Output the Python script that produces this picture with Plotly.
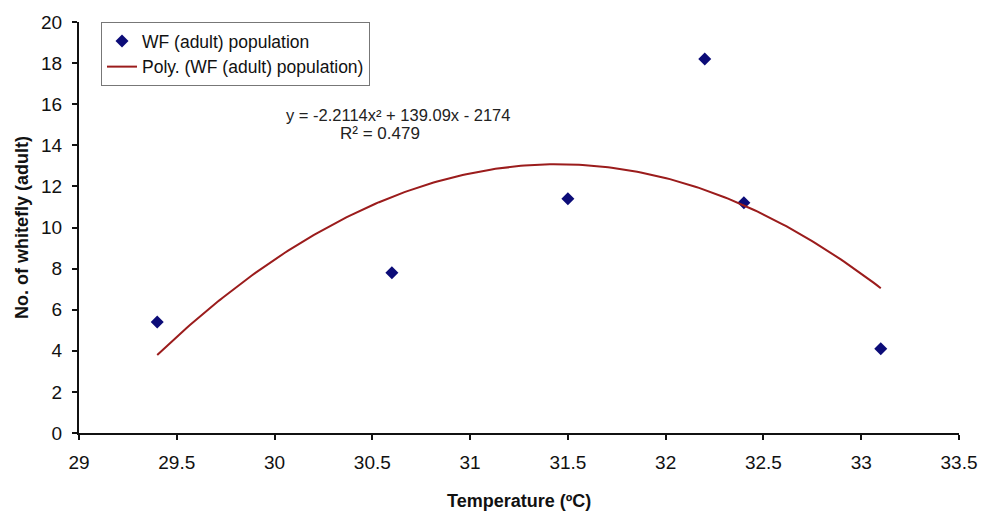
import numpy as np
import plotly.graph_objects as go

# Data
temperature = [29.4, 30.6, 31.5, 32.2, 32.4, 33.1]
whitefly = [5.4, 7.8, 11.4, 18.2, 11.2, 4.1]
# Polynomial trendline coefficients (as printed on the chart)
poly_coef = [-2.2114, 139.09, -2174]
r_squared = 0.479
x_ticks = [29, 29.5, 30, 30.5, 31, 31.5, 32, 32.5, 33, 33.5]
y_ticks = [0, 2, 4, 6, 8, 10, 12, 14, 16, 18, 20]

xs = np.linspace(min(temperature), max(temperature), 200)
ys = np.polyval(poly_coef, xs)

fig = go.Figure()
fig.add_trace(go.Scatter(
    x=temperature, y=whitefly, mode="markers",
    name="WF (adult) population",
    marker=dict(symbol="diamond", size=10, color="#0c0c78"),
))
fig.add_trace(go.Scatter(
    x=xs, y=ys, mode="lines",
    name="Poly. (WF (adult) population)",
    line=dict(color="#9b1c1c", width=2),
))

eq_text = "y = -2.2114x² + 139.09x - 2174"
fig.add_annotation(x=30.63, y=15.48, xref="x", yref="y", text=eq_text,
                   showarrow=False, font=dict(family="Arial", size=16.5, color="#222"))
fig.add_annotation(x=30.54, y=14.57, xref="x", yref="y", text=f"R² = {r_squared}",
                   showarrow=False, font=dict(family="Arial", size=17, color="#222"))
fig.add_annotation(x=0.5, y=0, xref="paper", yref="paper", xanchor="center",
                   yanchor="top", yshift=-56, showarrow=False,
                   text="<b>Temperature (ºC)</b>",
                   font=dict(family="Arial", size=18, color="#111"))

fig.update_layout(
    width=990, height=514,
    margin=dict(l=79, r=31, t=18, b=81),
    paper_bgcolor="white", plot_bgcolor="white",
    font=dict(family="Arial", color="#111"),
    showlegend=True,
    legend=dict(x=0.025, y=1.0, xanchor="left", yanchor="top",
                bordercolor="#777", borderwidth=1, bgcolor="white",
                font=dict(family="Arial", size=17.5, color="#111")),
    xaxis=dict(range=[29, 33.5], tickvals=x_ticks,
               ticktext=[str(t) for t in x_ticks],
               showgrid=False, zeroline=False, showline=True,
               linecolor="#111", linewidth=2, ticks="outside", ticklen=5,
               tickwidth=2, tickcolor="#111", ticklabelstandoff=6,
               tickfont=dict(family="Arial", size=19), automargin=False),
    yaxis=dict(range=[0, 20], tickvals=y_ticks,
               showgrid=False, zeroline=False, showline=True,
               linecolor="#111", linewidth=2, ticks="outside", ticklen=5,
               tickwidth=2, tickcolor="#111", ticklabelstandoff=6,
               tickfont=dict(family="Arial", size=19),
               title=dict(text="<b>No. of whitefly (adult)</b>",
                          font=dict(family="Arial", size=18), standoff=8)),
)

fig.write_html("out.html")
